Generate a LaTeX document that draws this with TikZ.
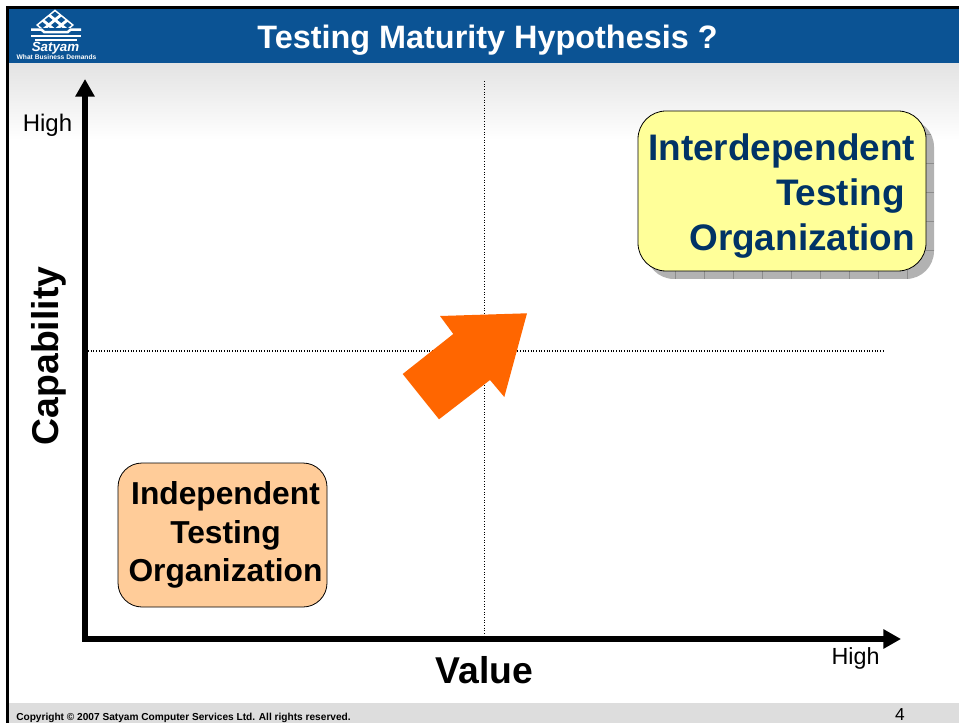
\documentclass[tikz,border=0pt]{standalone}
\usepackage{fontspec}
\setmainfont{Liberation Sans}
\definecolor{hdrblue}{HTML}{0B5394}
\definecolor{navytxt}{HTML}{003366}
\definecolor{boxyellow}{HTML}{FFFF99}
\definecolor{boxorange}{HTML}{FFCC99}
\definecolor{bigarrow}{HTML}{FF6600}
\definecolor{footgrey}{HTML}{DDDDDD}
\usetikzlibrary{arrows.meta}
\tikzset{
  axisline/.style={line width=4.3pt,-{Triangle[length=13.2pt,width=13.8pt]},shorten >=0pt},
  guide/.style={line width=0.9pt,dash pattern=on 0.8pt off 1.2pt},
  lbl/.style={anchor=base,inner sep=0pt},
  plain/.style={anchor=base,inner sep=0pt},
  roundbox/.style={draw=black,line width=0.6pt,rounded corners=#1,inner sep=0pt},
}
\begin{document}
\begin{tikzpicture}[x=0.75pt,y=-0.75pt]
\useasboundingbox (0,0) rectangle (959,723);
\fill[white] (0,0) rectangle (959,723);
% background gradient, footer, header, frame
\shade[top color=black!11,bottom color=white] (9,63) rectangle (959,140);
\fill[footgrey] (9,703) rectangle (959,723);
\fill[hdrblue] (9,9) rectangle (959,63);
\fill[black] (6,6.5) rectangle (959,9);
\fill[black] (6,6.5) rectangle (9,723);
% logo
\fill[white] (55,9.5) -- (74,25) -- (67,31) -- (43,31) -- (36,25) -- cycle;
\foreach \i in {0,1,2} \foreach \j in {0,1,2} {
  \pgfmathsetmacro{\cx}{55+6.3*(\j-\i)}
  \pgfmathsetmacro{\cy}{9.5+5.2*(\i+\j+1)}
  \fill[hdrblue] (\cx,\cy-3.1) -- (\cx+3.9,\cy) -- (\cx,\cy+3.1) -- (\cx-3.9,\cy) -- cycle;
}
\fill[hdrblue] (31,28) rectangle (81,42);
\fill[white] (31,28.5) -- (42,28.5) -- (45,31) -- (67,31) -- (70,28.5) -- (81,28.5) -- (81,31) -- (71,31) -- (68,33.5) -- (44,33.5) -- (41,31) -- (31,31) -- cycle;
\fill[white] (31,34.8) rectangle (81,36.8);
\fill[white] (35,38.8) rectangle (77,40.8);
\node[lbl,text=white,font=\fontsize{10pt}{11pt}\selectfont\bfseries\itshape] (brand) at (55.5,51.5) {Satyam};
\node[lbl,text=white,font=\fontsize{5pt}{5.5pt}\selectfont\bfseries] (tag) at (56.5,60) {What Business Demands};
% title
\node[lbl,text=white,font=\fontsize{24.3pt}{28pt}\selectfont\bfseries] (title) at (487.5,49) {Testing Maturity Hypothesis ?};
% guide lines
\coordinate (vtop) at (484.5,81);
\coordinate (vbot) at (484.5,638);
\coordinate (hleft) at (88,351);
\coordinate (hright) at (883.5,351);
\draw[guide] (vtop) -- (vbot);
\draw[guide] (hleft) -- (hright);
% axes
\coordinate (origin) at (85,639);
\coordinate (ytip) at (85,79);
\coordinate (xtip) at (901,639);
\draw[axisline] (origin) -- (ytip);
\draw[axisline] (origin) -- (xtip);
\fill[black] (82.3,636) rectangle (87.7,641.8);
% axis labels
\node[plain,font=\fontsize{18pt}{20pt}\selectfont] (yhigh) at (47.5,132) {High};
\node[plain,font=\fontsize{17.5pt}{20pt}\selectfont] (xhigh) at (855.5,664.5) {High};
\node[lbl,font=\fontsize{28pt}{32pt}\selectfont\bfseries] (xlabel) at (484.5,683) {Value};
\node[lbl,rotate=90,font=\fontsize{28pt}{32pt}\selectfont\bfseries] (ylabel) at (58,356) {Capability};
% interdependent box with shadow
\node[rounded corners=21pt,inner sep=0pt,minimum width=216pt,minimum height=120pt,fill=black!30,
      path picture={
        \foreach \k in {1,...,10} \draw[black!45,line width=0.4pt] ([xshift=\k*21.75pt]path picture bounding box.south west) -- +(0,7pt);
        \foreach \k in {1,...,5} \draw[black!45,line width=0.4pt] ([yshift=\k*21.75pt]path picture bounding box.south east) -- +(-7pt,0);
      }] (yshadow) at (790,199) {};
\node[roundbox=21pt,fill=boxyellow,minimum width=216pt,minimum height=120pt] (ybox) at (782,191) {};
\node[lbl,text=navytxt,anchor=center,align=right,text width=210pt,font=\fontsize{27.7pt}{33.75pt}\selectfont\bfseries] (ytext) at (775,196)
  {Interdependent\\Testing\kern7.8pt\\Organization};
% independent box
\node[roundbox=18pt,fill=boxorange,minimum width=156.75pt,minimum height=108pt] (obox) at (222.5,535) {};
\node[lbl,anchor=center,align=center,font=\fontsize{23.8pt}{28.9pt}\selectfont\bfseries] (otext) at (225.5,535)
  {Independent\\Testing\\Organization};
% big arrow
\fill[bigarrow] (527,313.3) -- (440,316) -- (453.3,334) -- (402.7,374) -- (439,419.3) -- (490,380) -- (504.3,397) -- cycle;
% footer text
\node[lbl,anchor=base west,font=\fontsize{7.6pt}{9pt}\selectfont\bfseries] (copy) at (16,720) {Copyright © 2007 Satyam Computer Services Ltd. All rights reserved.};
\node[plain,font=\fontsize{13pt}{14pt}\selectfont] (page) at (900,720) {4};
\end{tikzpicture}
\end{document}
